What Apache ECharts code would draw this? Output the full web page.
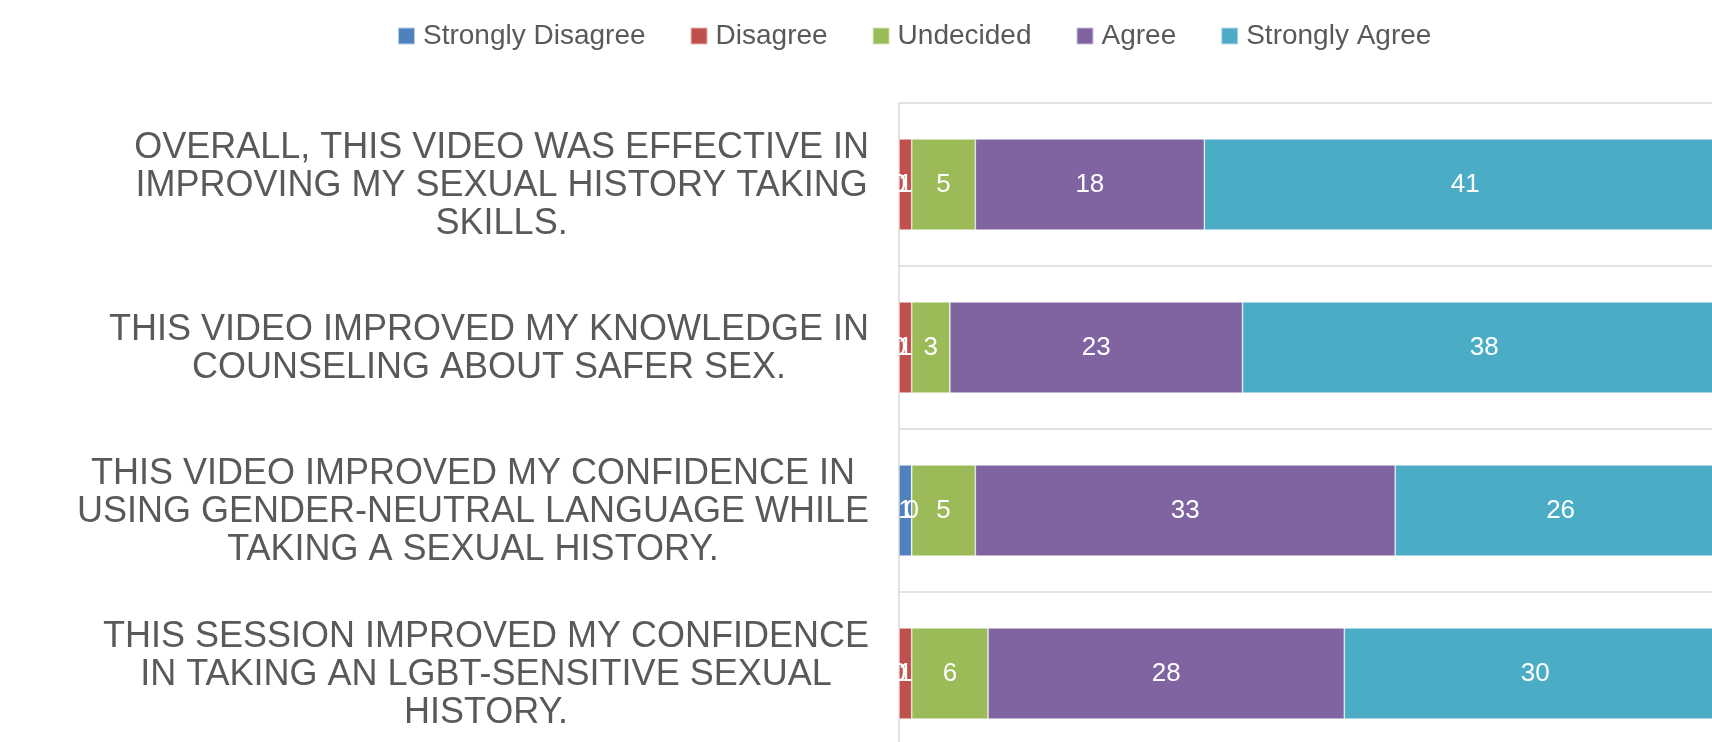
<!DOCTYPE html>
<html>
<head>
<meta charset="utf-8">
<script src="https://cdn.jsdelivr.net/npm/echarts@6/dist/echarts.min.js"></script>
<style>
html,body{margin:0;padding:0;background:#fff;}
#chart{width:1712px;height:742px;}
</style>
</head>
<body>
<div id="chart"></div>
<script>
const categories = [
  "OVERALL, THIS VIDEO WAS EFFECTIVE IN\nIMPROVING MY SEXUAL HISTORY TAKING\nSKILLS.",
  "THIS VIDEO IMPROVED MY KNOWLEDGE IN\nCOUNSELING ABOUT SAFER SEX.",
  "THIS VIDEO IMPROVED MY CONFIDENCE IN\nUSING GENDER-NEUTRAL LANGUAGE WHILE\nTAKING A SEXUAL HISTORY.",
  "THIS SESSION IMPROVED MY CONFIDENCE\nIN TAKING AN LGBT-SENSITIVE SEXUAL\nHISTORY."
];
const seriesNames = ["Strongly Disagree", "Disagree", "Undecided", "Agree", "Strongly Agree"];
const stronglyDisagree = [0, 0, 1, 0];
const disagree = [1, 1, 0, 1];
const undecided = [5, 3, 5, 6];
const agree = [18, 23, 33, 28];
const stronglyAgree = [41, 38, 26, 30];

const seriesValues = [stronglyDisagree, disagree, undecided, agree, stronglyAgree];
const colors = ["#4f81bd", "#c0504d", "#9bbb59", "#8064a2", "#4bacc6"];
const FONT = "'Liberation Sans', Arial, sans-serif";

const chart = echarts.init(document.getElementById('chart'));
chart.setOption({
  animation: false,
  color: colors,
  legend: {
    data: seriesNames,
    top: 17,
    left: 392,
    itemWidth: 17,
    itemHeight: 17,
    itemGap: 44,
    icon: 'rect',
    textStyle: { fontFamily: FONT, fontSize: 28, color: '#595959', padding: [0, 0, 0, 3] }
  },
  grid: { left: 899, right: -14, top: 103, height: 652, containLabel: false, outerBoundsMode: 'none' },
  xAxis: { type: 'value', min: 0, max: 65, show: false },
  yAxis: {
    type: 'category',
    inverse: true,
    data: categories,
    axisTick: { show: false },
    axisLine: { show: true, lineStyle: { color: '#d9d9d9', width: 1.5 } },
    splitLine: { show: true, lineStyle: { color: '#d9d9d9', width: 1.5 } },
    axisLabel: {
      interval: 0,
      margin: 30,
      align: 'right',
      padding: [4, 0, 0, 0],
      formatter: function (v) {
        return v.split('\n').map(l => '{c|' + l + '}').join('\n');
      },
      rich: {
        c: { align: 'center', fontFamily: FONT, fontSize: 36, lineHeight: 38, color: '#595959' }
      }
    }
  },
  series: seriesNames.map((name, i) => ({
    name: name,
    type: 'bar',
    stack: 'total',
    barWidth: 91,
    data: seriesValues[i],
    itemStyle: { color: colors[i], borderColor: 'rgba(255,255,255,0.6)', borderWidth: 0.7 },
    label: {
      show: true,
      position: 'inside',
      color: '#ffffff',
      fontFamily: FONT,
      fontSize: 26
    }
  }))
});
</script>
</body>
</html>
